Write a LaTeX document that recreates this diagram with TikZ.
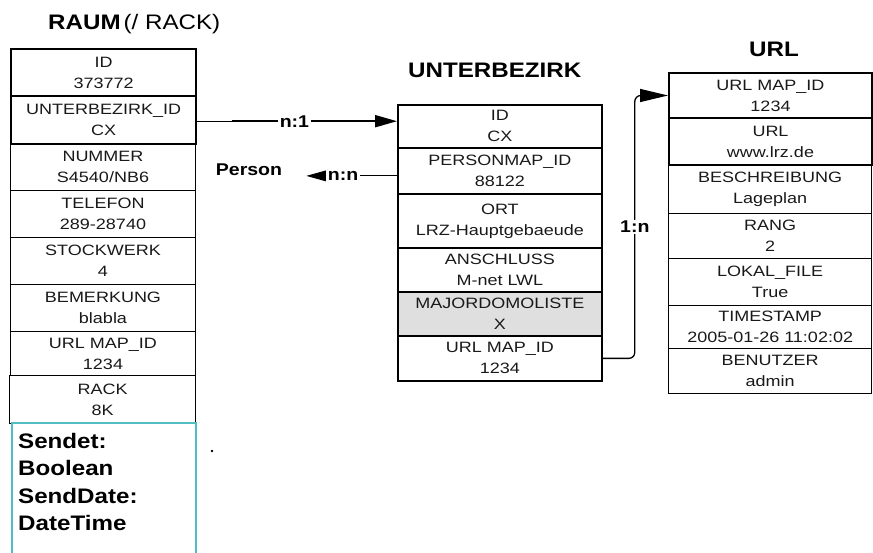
\documentclass[tikz,border=0pt]{standalone}
\usepackage{fontspec}
\setmainfont{Liberation Sans}
\newfontfamily\fieldfont{Liberation Sans}[FakeStretch=1.2]
\newfontfamily\widefont{Liberation Sans}[FakeStretch=1.15]
\usetikzlibrary{arrows.meta,calc}
\definecolor{tealline}{RGB}{80,190,195}
\begin{document}
\begin{tikzpicture}[x=1pt,y=-1pt,
  row/.style={draw, line width=1pt, anchor=north west, inner sep=0pt,
    align=center, text=black!90,
    font=\fieldfont\fontsize{15}{21}\selectfont},
  raumrow/.style={row, minimum width=185pt},
  thickrow/.style={line width=2.4pt},
  ubrow/.style={row, minimum width=204pt, line width=1.8pt},
  urlrow/.style={row, minimum width=203pt, line width=1.3pt},
  title/.style={anchor=base west, inner sep=0pt,
    font=\widefont\fontsize{21}{21}\selectfont},
  lab/.style={fill=white, inner sep=1.5pt,
    font=\widefont\bfseries\fontsize{17}{17}\selectfont},
  conn/.style={line width=2pt},
  tip/.style={-{Triangle[length=22pt,width=12pt]}}
]
\useasboundingbox (0,0) rectangle (873,553);

% titles
\node[title] (traum) at (48,30) {\bfseries RAUM\kern3pt\mdseries(/ RACK)};
\node[title] (tub) at (408,78) {\bfseries UNTERBEZIRK};
\node[title] (turl) at (749,57) {\bfseries URL};

% RAUM table
\node[raumrow, minimum height=47pt] (r3) at (10,143) {NUMMER\\S4540/NB6};
\node[raumrow, minimum height=47pt] (r4) at (10,190) {TELEFON\\289-28740};
\node[raumrow, minimum height=47pt] (r5) at (10,237) {STOCKWERK\\4};
\node[raumrow, minimum height=47pt] (r6) at (10,284) {BEMERKUNG\\blabla};
\node[raumrow, minimum height=44pt] (r7) at (10,331) {URL MAP\_ID\\1234};
\node[raumrow, minimum height=48pt, minimum width=186pt, line width=1.3pt] (r8) at (9,375) {RACK\\8K};
\node[raumrow, thickrow, minimum height=47pt] (r1) at (10,48) {ID\\373772};
\node[raumrow, thickrow, minimum height=48pt] (r2) at (10,95) {UNTERBEZIRK\_ID\\CX};

% Sendet box
\node[anchor=north west, inner sep=0pt, align=left,
  font=\widefont\bfseries\fontsize{21}{27.5}\selectfont] (sendet) at (18,433)
  {Sendet:\\Boolean\\SendDate:\\DateTime};
\draw[tealline, line width=1.2pt] (12,556) |- (196,423) -- (196,556);

% UNTERBEZIRK table
\node[ubrow, minimum height=43pt] (u1) at (397,104) {ID\\CX};
\node[ubrow, minimum height=46pt] (u2) at (397,147) {PERSONMAP\_ID\\88122};
\node[ubrow, minimum height=54pt] (u3) at (397,193) {ORT\\LRZ-Hauptgebaeude};
\node[ubrow, minimum height=44pt] (u4) at (397,247) {ANSCHLUSS\\M-net LWL};
\node[ubrow, minimum height=44pt, fill=gray!25] (u5) at (397,291) {MAJORDOMOLISTE\\X};
\node[ubrow, minimum height=45pt] (u6) at (397,335) {URL MAP\_ID\\1234};

% URL table
\node[urlrow, minimum height=45pt, line width=2pt] (w1) at (668,72) {URL MAP\_ID\\1234};
\node[urlrow, minimum height=47pt, line width=2pt] (w2) at (668,117) {URL\\www.lrz.de};
\node[urlrow, minimum height=49pt] (w3) at (668,164) {BESCHREIBUNG\\Lageplan};
\node[urlrow, minimum height=45pt] (w4) at (668,213) {RANG\\2};
\node[urlrow, minimum height=47pt] (w5) at (668,258) {LOKAL\_FILE\\True};
\node[urlrow, minimum height=43pt] (w6) at (668,305) {TIMESTAMP\\2005-01-26 11:02:02};
\node[urlrow, minimum height=45pt] (w7) at (668,348) {BENUTZER\\admin};

% n:1 connector
\coordinate (n1a) at ($(r2.east)+(35,1)$);
\draw[line width=1pt] ($(r2.east)+(0,1)$) -- (n1a);
\draw[conn, tip] (n1a) -- (n1a -| u1.west) node[lab, pos=0.377] {n:1};

% Person connector
\node[inner sep=0pt, font=\widefont\bfseries\fontsize{17}{17}\selectfont] (person) at (249,170) {Person};
\coordinate (pa) at ($(u2.west)+(0,5)$);
\coordinate (pb) at (pa -| person.east);
\draw[line width=1pt, tip, shorten >=24pt] (pa) -- (pb) node[lab, pos=0.47] {n:n};

% 1:n connector
\coordinate (c1) at ($(u6.east)+(32,0)$);
\draw[line width=1.3pt, rounded corners=6pt, -{Triangle[length=28pt,width=13pt]}]
  (u6.east) -- (c1) -- (c1 |- w1.west) -- (w1.west);
\node[lab] (lab1n) at ($(c1 |- 0,227)$) {1:n};

% stray dot
\fill (212,451) circle (1.3pt);
\end{tikzpicture}
\end{document}
